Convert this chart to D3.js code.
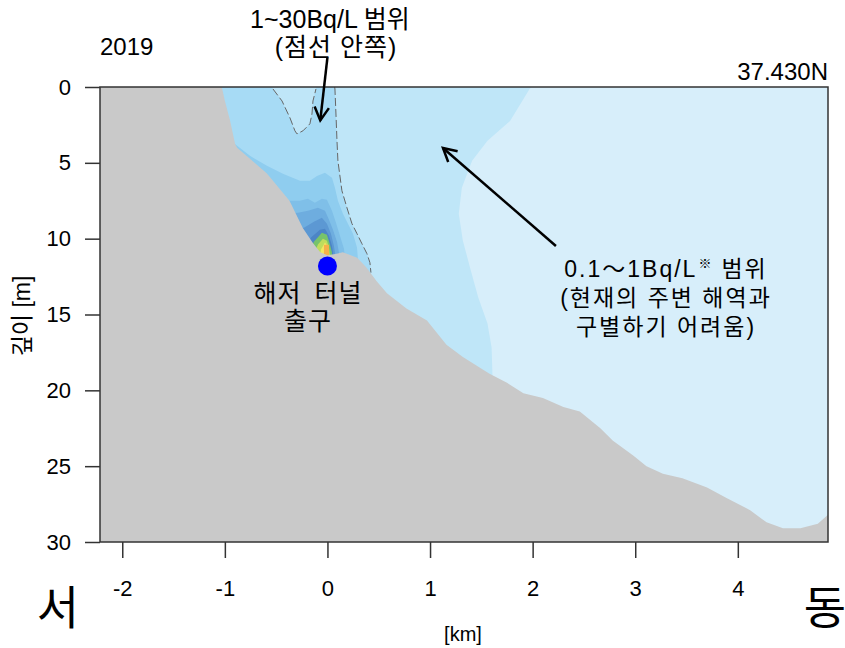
<!DOCTYPE html>
<html><head><meta charset="utf-8">
<script src="https://cdn.jsdelivr.net/npm/d3@7"></script>
<style>body{margin:0;background:#fff}svg{display:block}</style>
</head><body>
<svg id="chart" width="845" height="648"></svg>
<script>
// Seabed profile along the east-west section through the tunnel outlet
const seabedKm    = [-1.03,-1.00,-0.95,-0.90,-0.88,-0.59,-0.37,-0.24,-0.14,-0.07,0.00,0.09,0.15,0.29,0.38,0.48,0.58,0.77,0.97,1.16,1.32,1.58,1.75,1.91,2.10,2.30,2.46,2.66,2.78,2.98,3.11,3.27,3.46,3.70,3.89,4.12,4.28,4.44,4.61,4.78,4.88,4.95];
const seabedDepth = [0.0,0.9,2.2,3.75,4.0,5.7,7.5,9.3,10.3,10.9,11.1,11.0,10.9,11.25,11.9,12.8,13.6,14.6,15.4,17.0,17.8,18.9,19.5,20.2,20.5,21.1,21.4,22.5,23.3,24.3,25.0,25.5,25.8,26.4,27.1,27.9,28.7,29.1,29.1,28.8,28.2,27.6];

// Concentration bands, outermost first: [km, depth m] outlines
const band01 = [[-1.2,0],[1.99,0],[1.97,0.13],[1.78,2.24],[1.56,3.55],[1.41,4.87],[1.31,6.64],[1.28,8.36],[1.32,10.13],[1.39,11.91],[1.47,13.88],[1.56,15.59],[1.60,17.17],[1.61,19.34],[1.62,22],[-1.2,22]];
const band1  = [[-1.2,0],[0.07,0],[0.073,0.13],[0.083,1.78],[0.093,3.55],[0.102,4.87],[0.141,6.84],[0.19,7.96],[0.239,9.01],[0.288,9.67],[0.336,10.33],[0.385,10.99],[0.414,11.58],[0.424,12.24],[0.43,13.5],[-1.2,13.5]];
const pocket = [[-0.54,0],[-0.531,0.13],[-0.443,0.92],[-0.365,2.04],[-0.317,2.89],[-0.297,3.09],[-0.239,2.89],[-0.171,2.43],[-0.151,1.78],[-0.141,0.92],[-0.112,0.13],[-0.11,0]];
const band2  = [[-0.95,3.75],[-0.902,3.75],[-0.755,4.54],[-0.59,5.2],[-0.434,5.72],[-0.268,6.18],[-0.171,6.18],[-0.102,5.86],[-0.024,5.66],[0.044,5.99],[0.073,6.64],[0.102,7.5],[0.151,8.36],[0.2,9.01],[0.249,9.67],[0.288,10.59],[0.297,11.32],[0.30,12.5],[-0.95,12.5]];
const band3  = [[-0.45,7.5],[-0.385,7.5],[-0.268,7.5],[-0.19,7.37],[-0.122,7.63],[-0.054,7.37],[-0.005,7.43],[0.044,8.16],[0.083,8.95],[0.122,9.8],[0.161,10.66],[0.171,11.32],[0.18,12.5],[-0.45,12.5]];
const band4  = [[-0.32,8.3],[-0.288,8.29],[-0.19,8.16],[-0.093,7.96],[-0.024,8.16],[0.015,8.75],[0.054,9.41],[0.093,10.2],[0.112,10.92],[0.112,11.32],[0.12,12.5],[-0.32,12.5]];
const band5  = [[-0.26,9.3],[-0.229,9.28],[-0.132,8.88],[-0.054,8.62],[-0.005,9.01],[0.034,9.67],[0.063,10.46],[0.073,10.92],[0.073,11.32],[0.08,12.5],[-0.26,12.5]];
const band6  = [[-0.18,10.2],[-0.161,9.93],[-0.073,9.41],[-0.024,9.34],[0.015,9.8],[0.044,10.46],[0.054,10.92],[0.054,11.32],[0.06,12.5],[-0.18,12.5]];
const band7  = [[-0.15,10.5],[-0.132,10.2],[-0.054,9.61],[-0.005,9.74],[0.024,10.39],[0.044,10.92],[0.044,11.32],[0.05,12.5],[-0.15,12.5]];
const band8  = [[-0.11,10.7],[-0.093,10.39],[-0.044,10.0],[-0.005,10.13],[0.015,10.59],[0.024,11.05],[0.024,11.32],[0.03,12],[-0.11,12]];
const band9  = [[-0.07,11.0],[-0.063,10.72],[-0.024,10.26],[0.005,10.53],[0.015,11.18],[0.02,12],[-0.07,12]];
const band10 = [[-0.034,10.4],[0.015,10.4],[0.015,11.5],[-0.034,11.5]];
const bands      = [band01, band1, pocket, band2, band3, band4, band5, band6, band7, band8, band9, band10];
const bandColors = ["#bfe6f8","#a7dbf5","#bfe6f8","#8fcdef","#7fbfe8","#6eaddf","#5c98d3","#4c85c6","#77c36b","#bfdd5c","#f3e962","#f6b14b"];

// 1 Bq/L contour, drawn dashed
const contourPocket = pocket.slice(1, -1);
const contourEast   = band1.slice(1, 14);

// Tunnel outlet
const outlet = [0.0, 11.8];

const xTicks = [-2,-1,0,1,2,3,4];
const yTicks = [0,5,10,15,20,25,30];

const svg = d3.select("#chart");
const L = 100, R = 828, T = 87, B = 542;
const x = d3.scaleLinear().domain([-2.217, 4.879]).range([L, R]);
const y = d3.scaleLinear().domain([0, 30]).range([T, B]);

const latin = "'Liberation Sans', Arial, 'Noto Sans CJK KR', sans-serif";
const cjk = "'Noto Sans CJK KR', sans-serif";

svg.append("defs").append("clipPath").attr("id", "plot")
  .append("rect").attr("x", L).attr("y", T).attr("width", R - L).attr("height", B - T);

const g = svg.append("g").attr("clip-path", "url(#plot)");
const line = d3.line().x(d => x(d[0])).y(d => y(d[1]));

// water below 0.1 Bq/L
g.append("rect").attr("x", L).attr("y", T).attr("width", R - L).attr("height", B - T).attr("fill", "#d7eefa");

bands.forEach((b, i) => {
  g.append("path").attr("d", line(b) + "Z").attr("fill", bandColors[i]);
});

// dashed 1 Bq/L contour
[contourPocket, contourEast].forEach(c => {
  g.append("path").attr("d", line(c)).attr("fill", "none")
    .attr("stroke", "#666").attr("stroke-width", 1).attr("stroke-dasharray", "8,3");
});

// seabed
const seabed = seabedKm.map((k, i) => [k, seabedDepth[i]]);
const land = [[-2.4, 0]].concat(seabed, [[4.95, 31], [-2.4, 31]]);
g.append("path").attr("d", line(land) + "Z").attr("fill", "#c9c9c9");

// outlet marker
svg.append("circle").attr("cx", x(outlet[0])).attr("cy", y(outlet[1])).attr("r", 9.5).attr("fill", "#0000ff");

// frame
svg.append("rect").attr("x", L).attr("y", T).attr("width", R - L).attr("height", B - T)
  .attr("fill", "none").attr("stroke", "#333").attr("stroke-width", 1.5);

// axes
const ay = svg.append("g").attr("transform", `translate(${L},0)`)
  .call(d3.axisLeft(y).tickValues(yTicks).tickSize(15).tickPadding(14).tickFormat(d3.format("d")));
const ax = svg.append("g").attr("transform", `translate(0,${B})`)
  .call(d3.axisBottom(x).tickValues(xTicks).tickSize(16).tickPadding(22).tickFormat(d => d < 0 ? "-" + Math.abs(d) : d));
[ax, ay].forEach(a => {
  a.select(".domain").remove();
  a.selectAll("line").attr("stroke", "#333").attr("stroke-width", 1.5);
  a.selectAll("text").attr("font-family", latin).attr("font-size", 22).attr("fill", "#000");
});

function txt(xp, yp, s, size, anchor, fam) {
  return svg.append("text").attr("x", xp).attr("y", yp).attr("font-family", fam || latin)
    .attr("font-size", size).attr("text-anchor", anchor || "middle").attr("fill", "#000").text(s);
}

txt(100, 55, "2019", 24, "start");
txt(828, 80, "37.430N", 24, "end");
txt(330, 28, "1~30Bq/L 범위", 25);
txt(336, 56, "(점선 안쪽)", 25).attr("letter-spacing", 1);
txt(x(-0.19), 302, "해저 터널", 25).attr("word-spacing", 5).attr("letter-spacing", 1);
txt(x(-0.19), 330, "출구", 25).attr("letter-spacing", 1);
txt(463, 641, "[km]", 20);
txt(58, 624, "서", 46, "middle", cjk);
txt(825, 624, "동", 46, "middle", cjk);
svg.append("text").attr("transform", "translate(22,316) rotate(-90)")
  .attr("text-anchor", "middle").attr("dominant-baseline", "central")
  .attr("font-family", latin).attr("font-size", 23).text("깊이 [m]");

// note on the 0.1–1 Bq/L band, first line laid out piece by piece
const noteFont = 23, noteX = 666;
function notePiece(s, size) {
  return svg.append("text").attr("font-family", latin).attr("font-size", size)
    .attr("letter-spacing", 2).attr("fill", "#000").text(s);
}
const p1 = notePiece("0.1～1Bq/L", noteFont);
const p2 = notePiece("※", 13);
const p3 = notePiece("범위", noteFont);
const w1 = p1.node().getComputedTextLength(), w2 = p2.node().getComputedTextLength(),
      w3 = p3.node().getComputedTextLength();
let cx = noteX - (w1 + w2 + w3 + 1 + 8) / 2;
p1.attr("x", cx).attr("y", 277); cx += w1 + 1;
p2.attr("x", cx).attr("y", 268); cx += w2 + 8;
p3.attr("x", cx).attr("y", 277);
notePiece("(현재의 주변 해역과", noteFont).attr("x", noteX).attr("y", 306).attr("text-anchor", "middle");
notePiece("구별하기 어려움)", noteFont).attr("x", noteX).attr("y", 335).attr("text-anchor", "middle");

// arrows (data coordinates)
const arrows = [
  { from: [0.0, -1.95], to: [-0.07, 2.2] },
  { from: [2.227, 10.48], to: [1.126, 4.02] }
];
arrows.forEach(a => {
  const x0 = x(a.from[0]), y0 = y(a.from[1]), x1 = x(a.to[0]), y1 = y(a.to[1]);
  const ang = Math.atan2(y1 - y0, x1 - x0), h = 15, sp = 0.5;
  svg.append("line").attr("x1", x0).attr("y1", y0).attr("x2", x1).attr("y2", y1)
    .attr("stroke", "#000").attr("stroke-width", 2.5);
  const p = [[x1 - h * Math.cos(ang - sp), y1 - h * Math.sin(ang - sp)], [x1, y1],
             [x1 - h * Math.cos(ang + sp), y1 - h * Math.sin(ang + sp)]];
  svg.append("path").attr("d", d3.line()(p)).attr("fill", "none")
    .attr("stroke", "#000").attr("stroke-width", 2.5).attr("stroke-linejoin", "miter");
});
</script>
</body></html>
